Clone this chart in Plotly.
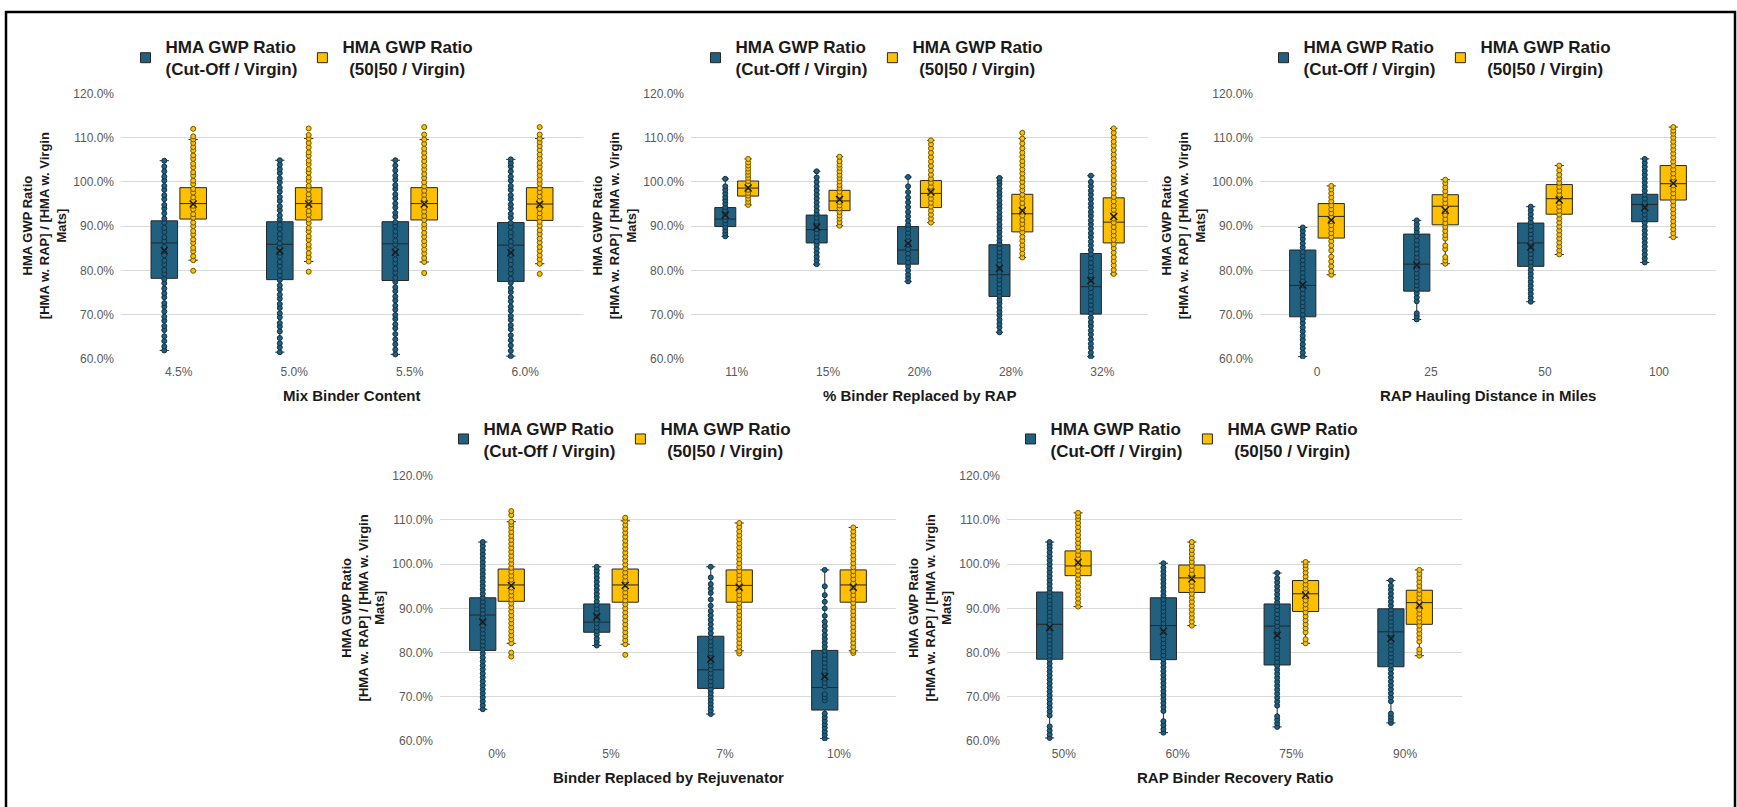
import plotly.graph_objects as go

# ---------------------------------------------------------------------------
# Data: HMA GWP ratio box statistics (percent) per panel and scenario
# ---------------------------------------------------------------------------

# Panel 1 - Mix Binder Content
MIX_CATS = ["4.5%", "5.0%", "5.5%", "6.0%"]
MIX_CUT_Q1 = [78.2, 77.9, 77.7, 77.5]
MIX_CUT_MED = [86.2, 85.9, 86.0, 85.7]
MIX_CUT_Q3 = [91.2, 91.0, 91.0, 90.8]
MIX_CUT_LO = [61.9, 61.5, 61.0, 60.6]
MIX_CUT_HI = [104.8, 104.9, 104.9, 105.1]
MIX_CUT_MEAN = [84.5, 84.4, 84.1, 84.0]
MIX_CUT_PTS = [
    [61.9, 62.8, 64.0, 65.1, 66.5, 67.4, 68.6, 69.5, 70.7, 71.8, 72.6, 73.9, 74.8, 75.9, 77.1, 78.0, 79.2,
     80.1, 81.3, 82.2, 83.4, 84.5, 85.3, 86.6, 87.5, 88.7, 89.6, 90.8, 91.7, 92.9, 94.0, 94.8, 96.1, 97.0,
     98.2, 99.1, 100.3, 101.2, 102.4, 103.5, 104.8],
    [61.5, 62.6, 63.5, 64.7, 66.2, 67.3, 68.1, 69.4, 70.3, 71.5, 72.4, 73.6, 74.5, 75.7, 76.6, 77.8, 78.9,
     79.8, 81.0, 81.9, 83.1, 84.0, 85.2, 86.1, 87.3, 88.2, 89.4, 90.3, 91.5, 92.4, 93.6, 94.5, 95.7, 96.6,
     97.8, 98.7, 99.9, 100.8, 102.0, 102.9, 103.9, 104.9],
    [61.0, 62.1, 63.3, 64.4, 65.6, 66.9, 67.8, 69.0, 69.9, 71.1, 72.0, 73.2, 74.1, 75.3, 76.2, 77.4, 78.3,
     79.5, 80.4, 81.6, 82.5, 83.7, 84.6, 85.8, 86.7, 87.9, 88.8, 90.0, 90.9, 92.1, 93.0, 94.2, 95.1, 96.3,
     97.2, 98.4, 99.3, 100.5, 101.4, 102.6, 103.7, 104.9],
    [60.6, 61.8, 63.0, 64.2, 65.3, 66.7, 67.6, 68.8, 69.7, 70.9, 71.8, 73.0, 73.9, 75.1, 76.0, 77.2, 78.1,
     79.3, 80.2, 81.4, 82.3, 83.5, 84.4, 85.6, 86.5, 87.7, 88.6, 89.8, 90.7, 91.9, 92.8, 94.0, 94.9, 96.1,
     97.0, 98.2, 99.1, 100.3, 101.2, 102.4, 103.5, 104.3, 105.1],
]
MIX_5050_Q1 = [91.6, 91.4, 91.4, 91.3]
MIX_5050_MED = [95.1, 95.1, 95.1, 95.0]
MIX_5050_Q3 = [98.7, 98.7, 98.7, 98.7]
MIX_5050_LO = [82.3, 82.0, 81.9, 81.5]
MIX_5050_HI = [109.6, 109.8, 109.6, 109.8]
MIX_5050_MEAN = [95.0, 95.0, 95.0, 94.9]
MIX_5050_PTS = [
    [79.9, 82.3, 83.2, 84.3, 85.1, 86.2, 87.0, 88.1, 88.9, 90.0, 90.8, 91.9, 92.7, 93.8, 94.6, 95.7, 96.5,
     97.6, 98.4, 99.5, 100.3, 101.4, 102.2, 103.3, 104.1, 105.2, 106.0, 107.1, 107.9, 108.8, 109.6, 110.3,
     112.0],
    [79.7, 82.0, 83.0, 83.9, 85.0, 85.8, 86.9, 87.7, 88.8, 89.6, 90.7, 91.5, 92.6, 93.4, 94.5, 95.3, 96.4,
     97.2, 98.3, 99.1, 100.2, 101.0, 102.1, 102.9, 104.0, 104.8, 105.9, 106.7, 107.8, 108.8, 109.8, 110.6,
     112.1],
    [79.4, 81.9, 82.8, 83.8, 84.7, 85.7, 86.6, 87.6, 88.5, 89.5, 90.4, 91.4, 92.3, 93.3, 94.2, 95.2, 96.1,
     97.1, 98.0, 99.0, 99.9, 100.9, 101.8, 102.8, 103.7, 104.7, 105.6, 106.6, 107.5, 108.6, 109.6, 110.7,
     112.4],
    [79.2, 81.5, 82.5, 83.4, 84.4, 85.3, 86.3, 87.2, 88.2, 89.1, 90.1, 91.0, 92.0, 92.9, 93.9, 94.8, 95.8,
     96.7, 97.7, 98.6, 99.6, 100.5, 101.5, 102.4, 103.4, 104.3, 105.3, 106.2, 107.2, 108.1, 109.0, 109.8,
     110.7, 112.4],
]

# Panel 2 - % Binder Replaced by RAP
RAP_CATS = ["11%", "15%", "20%", "28%", "32%"]
RAP_CUT_Q1 = [89.9, 86.2, 81.4, 74.1, 70.1]
RAP_CUT_MED = [91.6, 89.2, 84.6, 79.0, 76.3]
RAP_CUT_Q3 = [94.2, 92.5, 89.9, 85.8, 83.8]
RAP_CUT_LO = [87.7, 81.4, 77.5, 66.0, 60.5]
RAP_CUT_HI = [100.7, 102.4, 101.1, 100.9, 101.4]
RAP_CUT_MEAN = [92.5, 89.8, 86.1, 80.5, 77.7]
RAP_CUT_PTS = [
    [87.7, 88.4, 89.1, 89.8, 90.6, 91.3, 92.1, 92.8, 93.6, 94.3, 95.1, 95.9, 96.6, 97.4, 98.2, 99.0, 100.7],
    [81.4, 82.3, 83.1, 84.0, 84.9, 85.8, 86.6, 87.5, 88.4, 89.3, 90.1, 91.0, 91.9, 92.8, 93.6, 94.5, 95.4,
     96.3, 97.2, 98.1, 99.0, 100.0, 101.0, 102.4],
    [77.5, 78.3, 79.1, 80.0, 80.9, 81.8, 82.8, 83.8, 84.8, 85.8, 86.7, 87.6, 88.5, 89.4, 90.3, 91.2, 92.2,
     93.2, 94.3, 95.4, 96.5, 97.7, 99.0, 101.1],
    [66.0, 67.1, 67.9, 68.8, 69.8, 70.6, 71.5, 72.5, 73.3, 74.2, 75.2, 76.0, 76.9, 77.9, 78.7, 79.6, 80.6,
     81.4, 82.3, 83.3, 84.1, 85.0, 86.0, 86.8, 87.7, 88.7, 89.5, 90.4, 91.4, 92.2, 93.1, 94.1, 94.9, 95.8,
     96.8, 97.6, 98.5, 99.5, 100.2, 100.9],
    [60.5, 61.4, 62.5, 63.4, 64.4, 65.5, 66.4, 67.4, 68.3, 69.3, 70.3, 71.2, 72.2, 73.1, 74.1, 75.0, 76.0,
     77.0, 77.9, 78.9, 79.8, 80.8, 81.7, 82.7, 83.7, 84.6, 85.6, 86.5, 87.5, 88.4, 89.4, 90.4, 91.3, 92.3,
     93.2, 94.2, 95.1, 96.1, 97.1, 98.0, 99.0, 100.0, 101.4],
]
RAP_5050_Q1 = [96.8, 93.5, 94.2, 88.7, 86.2]
RAP_5050_MED = [98.6, 95.7, 97.4, 92.8, 90.9]
RAP_5050_Q3 = [100.2, 98.1, 100.3, 97.2, 96.4]
RAP_5050_LO = [94.8, 90.1, 90.8, 82.9, 79.2]
RAP_5050_HI = [105.2, 105.7, 109.4, 109.8, 112.1]
RAP_5050_MEAN = [98.6, 96.0, 97.7, 93.5, 92.2]
RAP_5050_PTS = [
    [94.8, 95.5, 96.2, 96.9, 97.5, 98.2, 98.9, 99.5, 100.2, 100.9, 101.6, 102.3, 103.0, 103.7, 104.4, 105.2],
    [90.1, 90.9, 91.7, 92.4, 93.2, 94.0, 94.7, 95.5, 96.3, 97.0, 97.8, 98.6, 99.3, 100.1, 100.9, 101.6,
     102.4, 103.2, 103.9, 104.7, 105.7],
    [90.8, 91.7, 92.6, 93.5, 94.4, 95.3, 96.2, 97.1, 98.0, 98.9, 99.8, 100.7, 101.6, 102.6, 103.6, 104.6,
     105.6, 106.6, 107.6, 108.5, 109.4],
    [82.9, 83.8, 84.8, 85.7, 86.7, 87.6, 88.6, 89.5, 90.5, 91.4, 92.4, 93.3, 94.3, 95.2, 96.2, 97.1, 98.1,
     99.0, 100.0, 100.9, 101.9, 102.8, 103.8, 104.7, 105.7, 106.6, 107.6, 108.7, 109.8, 111.1],
    [79.2, 80.1, 81.1, 82.1, 83.0, 84.0, 85.0, 85.9, 86.9, 87.9, 88.8, 89.8, 90.8, 91.7, 92.7, 93.7, 94.6,
     95.6, 96.6, 97.5, 98.5, 99.5, 100.4, 101.4, 102.4, 103.3, 104.3, 105.3, 106.2, 107.2, 108.2, 109.1,
     110.1, 111.1, 112.1],
]

# Panel 3 - RAP Hauling Distance in Miles
HAUL_CATS = ["0", "25", "50", "100"]
HAUL_CUT_Q1 = [69.5, 75.3, 80.9, 91.0]
HAUL_CUT_MED = [76.6, 81.4, 86.2, 94.9]
HAUL_CUT_Q3 = [84.6, 88.2, 90.7, 97.2]
HAUL_CUT_LO = [60.5, 68.9, 72.9, 81.8]
HAUL_CUT_HI = [89.7, 91.3, 94.4, 105.2]
HAUL_CUT_MEAN = [76.7, 81.2, 85.3, 94.2]
HAUL_CUT_PTS = [
    [60.5, 61.4, 62.4, 63.3, 64.3, 65.2, 66.2, 67.1, 68.1, 69.0, 70.0, 70.9, 71.9, 72.8, 73.8, 74.7, 75.7,
     76.6, 77.6, 78.5, 79.5, 80.4, 81.4, 82.3, 83.3, 84.2, 85.2, 86.1, 87.1, 88.0, 88.9, 89.7],
    [68.9, 69.6, 70.3, 73.0, 73.9, 74.8, 75.7, 76.6, 77.5, 78.4, 79.3, 80.2, 81.1, 82.0, 82.9, 83.8, 84.8,
     85.8, 86.8, 87.8, 88.7, 89.5, 90.4, 91.3],
    [72.9, 73.8, 74.7, 75.6, 76.5, 77.4, 78.3, 79.2, 80.1, 81.0, 81.9, 82.8, 83.7, 84.6, 85.5, 86.4, 87.3,
     88.2, 89.1, 90.0, 90.9, 91.8, 92.7, 93.6, 94.4],
    [81.8, 82.7, 83.6, 84.5, 85.4, 86.3, 87.2, 88.1, 89.0, 89.9, 90.8, 91.7, 92.6, 93.5, 94.4, 95.3, 96.2,
     97.1, 98.0, 98.9, 99.8, 100.7, 101.6, 102.5, 103.4, 104.3, 105.2],
]
HAUL_5050_Q1 = [87.3, 90.3, 92.7, 95.9]
HAUL_5050_MED = [92.2, 94.5, 96.2, 99.6]
HAUL_5050_Q3 = [95.1, 97.1, 99.4, 103.7]
HAUL_5050_LO = [79.0, 81.5, 83.6, 87.5]
HAUL_5050_HI = [99.1, 100.5, 103.7, 112.4]
HAUL_5050_MEAN = [91.4, 93.6, 95.9, 99.7]
HAUL_5050_PTS = [
    [79.0, 79.8, 80.9, 82.0, 83.1, 84.5, 85.6, 86.6, 87.5, 88.4, 89.3, 90.2, 91.1, 92.0, 92.9, 93.8, 94.7,
     95.6, 96.5, 97.4, 98.3, 99.1],
    [81.5, 82.2, 83.0, 84.8, 85.6, 87.2, 88.0, 88.9, 89.8, 90.7, 91.6, 92.5, 93.4, 94.3, 95.2, 96.1, 97.0,
     97.9, 98.8, 99.7, 100.5],
    [83.6, 84.5, 85.4, 86.3, 87.2, 88.1, 89.0, 89.9, 90.8, 91.7, 92.6, 93.5, 94.4, 95.3, 96.2, 97.1, 98.0,
     98.9, 99.8, 100.7, 101.6, 102.6, 103.7],
    [87.5, 88.4, 89.3, 90.2, 91.1, 92.0, 92.9, 93.8, 94.7, 95.6, 96.5, 97.4, 98.3, 99.2, 100.1, 101.0, 101.9,
     102.8, 103.7, 104.6, 105.5, 106.4, 107.3, 108.2, 109.1, 110.0, 110.9, 111.6, 112.4],
]

# Panel 4 - Binder Replaced by Rejuvenator
REJ_CATS = ["0%", "5%", "7%", "10%"]
REJ_CUT_Q1 = [80.5, 84.6, 71.9, 67.0]
REJ_CUT_MED = [88.5, 86.9, 76.1, 72.1]
REJ_CUT_Q3 = [92.4, 91.0, 83.7, 80.5]
REJ_CUT_LO = [67.2, 81.6, 66.1, 60.6]
REJ_CUT_HI = [105.0, 99.4, 99.4, 98.7]
REJ_CUT_MEAN = [86.9, 88.1, 78.5, 74.6]
REJ_CUT_PTS = [
    [67.2, 68.1, 69.0, 69.9, 70.8, 71.7, 72.6, 73.5, 74.4, 75.3, 76.2, 77.1, 78.0, 78.9, 79.8, 80.7, 81.6,
     82.5, 83.4, 84.3, 85.2, 86.1, 87.0, 87.9, 88.8, 89.7, 90.6, 91.5, 92.4, 93.3, 94.2, 95.1, 96.0, 96.9,
     97.8, 98.7, 99.6, 100.5, 101.4, 102.3, 103.2, 104.1, 105.0],
    [81.6, 82.4, 83.2, 84.1, 84.9, 85.7, 86.6, 87.4, 88.3, 89.1, 89.9, 90.8, 91.6, 92.5, 93.3, 94.2, 95.1,
     96.0, 96.9, 97.8, 98.6, 99.4],
    [66.1, 66.9, 67.7, 68.5, 69.3, 70.1, 70.9, 71.7, 72.6, 73.5, 74.4, 75.3, 76.2, 77.1, 78.0, 78.9, 79.8,
     80.7, 81.6, 82.5, 83.4, 84.4, 85.4, 86.4, 87.4, 88.4, 89.4, 90.6, 92.0, 93.5, 94.5, 95.5, 97.0, 99.4],
    [60.6, 61.4, 62.2, 63.0, 63.8, 64.6, 65.4, 66.2, 69.2, 69.9, 70.6, 72.3, 73.2, 74.1, 75.0, 75.9, 76.8,
     77.7, 78.6, 79.5, 80.4, 81.3, 82.2, 83.1, 84.0, 85.0, 86.0, 87.0, 88.3, 90.0, 91.5, 93.0, 95.0, 98.7],
]
REJ_5050_Q1 = [91.6, 91.4, 91.4, 91.4]
REJ_5050_MED = [95.3, 95.3, 95.2, 95.3]
REJ_5050_Q3 = [98.9, 98.9, 98.7, 98.7]
REJ_5050_LO = [82.1, 81.9, 80.4, 80.4]
REJ_5050_HI = [109.6, 109.8, 109.3, 108.3]
REJ_5050_MEAN = [95.2, 95.2, 94.8, 94.8]
REJ_5050_PTS = [
    [79.1, 80.0, 82.1, 83.0, 83.9, 84.8, 85.7, 86.6, 87.5, 88.4, 89.3, 90.2, 91.1, 92.0, 92.9, 93.8, 94.7,
     95.6, 96.5, 97.4, 98.3, 99.2, 100.1, 101.0, 101.9, 102.8, 103.7, 104.6, 105.5, 106.4, 107.3, 108.2,
     109.0, 109.6, 111.1, 112.0],
    [79.5, 81.9, 82.8, 83.7, 84.6, 85.5, 86.4, 87.3, 88.2, 89.1, 90.0, 90.9, 91.8, 92.7, 93.6, 94.5, 95.4,
     96.3, 97.2, 98.1, 99.0, 99.9, 100.8, 101.7, 102.6, 103.5, 104.4, 105.3, 106.2, 107.1, 108.0, 108.9,
     109.8, 110.5],
    [79.8, 80.4, 81.3, 82.2, 83.1, 84.0, 84.9, 85.8, 86.7, 87.6, 88.5, 89.4, 90.3, 91.2, 92.1, 93.0, 93.9,
     94.8, 95.7, 96.6, 97.5, 98.4, 99.3, 100.2, 101.1, 102.0, 102.9, 103.8, 104.7, 105.6, 106.5, 107.4,
     108.4, 109.3],
    [79.9, 80.4, 81.3, 82.2, 83.1, 84.0, 84.9, 85.8, 86.7, 87.6, 88.5, 89.4, 90.3, 91.2, 92.1, 93.0, 93.9,
     94.8, 95.7, 96.6, 97.5, 98.4, 99.3, 100.2, 101.1, 102.0, 102.9, 103.8, 104.7, 105.6, 106.5, 107.4,
     108.3],
]

# Panel 5 - RAP Binder Recovery Ratio
REC_CATS = ["50%", "60%", "75%", "90%"]
REC_CUT_Q1 = [78.5, 78.4, 77.2, 76.8]
REC_CUT_MED = [86.4, 86.1, 86.0, 84.7]
REC_CUT_Q3 = [93.7, 92.4, 91.0, 89.9]
REC_CUT_LO = [60.7, 61.9, 63.2, 64.1]
REC_CUT_HI = [105.0, 100.2, 98.0, 96.3]
REC_CUT_MEAN = [85.7, 84.8, 83.9, 83.2]
REC_CUT_PTS = [
    [60.7, 61.5, 62.4, 63.3, 65.8, 66.7, 67.6, 68.5, 69.4, 70.3, 71.2, 72.1, 73.0, 73.9, 74.8, 75.7, 76.6,
     77.5, 78.4, 79.3, 80.2, 81.1, 82.0, 82.9, 83.8, 84.7, 85.6, 86.5, 87.4, 88.3, 89.2, 90.1, 91.0, 91.9,
     92.8, 93.7, 94.6, 95.5, 96.4, 97.3, 98.2, 99.1, 100.0, 100.9, 101.8, 102.7, 103.6, 104.3, 105.0],
    [61.9, 62.7, 63.6, 64.5, 66.8, 67.7, 68.6, 69.5, 70.4, 71.3, 72.2, 73.1, 74.0, 74.9, 75.8, 76.7, 77.6,
     78.5, 79.4, 80.3, 81.2, 82.1, 83.0, 83.9, 84.8, 85.7, 86.6, 87.5, 88.4, 89.3, 90.2, 91.1, 92.0, 92.9,
     93.8, 94.7, 95.6, 96.5, 97.4, 98.3, 99.2, 100.2],
    [63.2, 64.0, 64.8, 65.6, 68.0, 68.9, 69.8, 70.7, 71.6, 72.5, 73.4, 74.3, 75.2, 76.1, 77.0, 77.9, 78.8,
     79.7, 80.6, 81.5, 82.4, 83.3, 84.2, 85.1, 86.0, 86.9, 87.8, 88.7, 89.6, 90.5, 91.4, 92.3, 93.2, 94.1,
     95.0, 95.9, 96.8, 98.0],
    [64.1, 64.8, 65.5, 66.2, 69.0, 69.9, 70.8, 71.7, 72.6, 73.5, 74.4, 75.3, 76.2, 77.1, 78.0, 78.9, 79.8,
     80.7, 81.6, 82.5, 83.4, 84.3, 85.2, 86.1, 87.0, 87.9, 88.8, 89.7, 90.6, 91.5, 92.4, 93.3, 94.2, 95.1,
     96.3],
]
REC_5050_Q1 = [97.4, 93.6, 89.3, 86.4]
REC_5050_MED = [99.6, 96.9, 93.3, 91.3]
REC_5050_Q3 = [103.0, 99.8, 96.3, 94.1]
REC_5050_LO = [90.4, 86.1, 82.1, 79.3]
REC_5050_HI = [111.6, 105.0, 100.5, 98.7]
REC_5050_MEAN = [100.4, 96.7, 93.0, 90.7]
REC_5050_PTS = [
    [90.4, 91.3, 92.2, 93.1, 94.0, 94.9, 95.8, 96.7, 97.6, 98.5, 99.4, 100.3, 101.2, 102.1, 103.0, 103.9,
     104.8, 105.7, 106.6, 107.5, 108.4, 109.3, 110.2, 110.9, 111.6],
    [86.1, 87.0, 87.9, 88.8, 89.7, 90.6, 91.5, 92.4, 93.3, 94.2, 95.1, 96.0, 96.9, 97.8, 98.7, 99.6, 100.5,
     101.4, 102.3, 103.2, 104.1, 105.0],
    [82.1, 83.0, 84.6, 85.5, 86.4, 87.3, 88.2, 89.1, 90.0, 90.9, 91.8, 92.7, 93.6, 94.5, 95.4, 96.3, 97.2,
     98.1, 99.0, 99.8, 100.5],
    [79.3, 80.0, 80.7, 82.5, 83.4, 84.3, 85.2, 86.1, 87.0, 87.9, 88.8, 89.7, 90.6, 91.5, 92.4, 93.3, 94.2,
     95.1, 96.0, 96.9, 97.8, 98.7],
]

# second legend line of the 50|50 entry is nudged with thin spaces so it sits centred
SERIES_NAMES = ["HMA GWP Ratio<br>(Cut-Off / Virgin)", "HMA GWP Ratio<br>\u2009\u2009(50|50 / Virgin)"]
Y_TITLE = "HMA GWP Ratio<br>[HMA w. RAP] / [HMA w. Virgin<br>Mats]"

# ---------------------------------------------------------------------------
# Layout and styling
# ---------------------------------------------------------------------------
W, H = 1737, 807
FONT = "Arial, 'Liberation Sans', sans-serif"
CUT_FILL = "#22607F"
CUT_EDGE = "#0f3346"
GOLD_FILL = "#FFC000"
GOLD_EDGE = "#6e5700"
BOX_LINE = "#262626"
GRID = "#d9d9d9"
TICK_COLOR = "#595959"
TEXT = "#1a1a1a"
BOX_W = 0.23
OFFSET = 0.125


def px_x(v):
    return v / W


def px_y(v):
    return 1 - v / H


# Each panel: data arrays + plot-area rectangle in pixels (left, top, right, bottom)
panels = [
    dict(cats=MIX_CATS, title="Mix Binder Content", rect=(121, 88, 583, 358), legend_x=302,
         cut=(MIX_CUT_Q1, MIX_CUT_MED, MIX_CUT_Q3, MIX_CUT_LO, MIX_CUT_HI, MIX_CUT_MEAN, MIX_CUT_PTS),
         gold=(MIX_5050_Q1, MIX_5050_MED, MIX_5050_Q3, MIX_5050_LO, MIX_5050_HI, MIX_5050_MEAN, MIX_5050_PTS)),
    dict(cats=RAP_CATS, title="% Binder Replaced by RAP", rect=(691, 88, 1148, 358), legend_x=872,
         cut=(RAP_CUT_Q1, RAP_CUT_MED, RAP_CUT_Q3, RAP_CUT_LO, RAP_CUT_HI, RAP_CUT_MEAN, RAP_CUT_PTS),
         gold=(RAP_5050_Q1, RAP_5050_MED, RAP_5050_Q3, RAP_5050_LO, RAP_5050_HI, RAP_5050_MEAN, RAP_5050_PTS)),
    dict(cats=HAUL_CATS, title="RAP Hauling Distance in Miles", rect=(1260, 88, 1716, 358), legend_x=1440,
         cut=(HAUL_CUT_Q1, HAUL_CUT_MED, HAUL_CUT_Q3, HAUL_CUT_LO, HAUL_CUT_HI, HAUL_CUT_MEAN, HAUL_CUT_PTS),
         gold=(HAUL_5050_Q1, HAUL_5050_MED, HAUL_5050_Q3, HAUL_5050_LO, HAUL_5050_HI, HAUL_5050_MEAN,
               HAUL_5050_PTS)),
    dict(cats=REJ_CATS, title="Binder Replaced by Rejuvenator", rect=(440, 477, 896, 747), legend_x=620,
         cut=(REJ_CUT_Q1, REJ_CUT_MED, REJ_CUT_Q3, REJ_CUT_LO, REJ_CUT_HI, REJ_CUT_MEAN, REJ_CUT_PTS),
         gold=(REJ_5050_Q1, REJ_5050_MED, REJ_5050_Q3, REJ_5050_LO, REJ_5050_HI, REJ_5050_MEAN, REJ_5050_PTS)),
    dict(cats=REC_CATS, title="RAP Binder Recovery Ratio", rect=(1007, 477, 1462, 747), legend_x=1187,
         cut=(REC_CUT_Q1, REC_CUT_MED, REC_CUT_Q3, REC_CUT_LO, REC_CUT_HI, REC_CUT_MEAN, REC_CUT_PTS),
         gold=(REC_5050_Q1, REC_5050_MED, REC_5050_Q3, REC_5050_LO, REC_5050_HI, REC_5050_MEAN, REC_5050_PTS)),
]

fig = go.Figure()
layout = dict(
    width=W, height=H,
    margin=dict(l=0, r=0, t=0, b=0),
    paper_bgcolor="white", plot_bgcolor="white",
    font=dict(family=FONT, color=TEXT),
    boxmode="overlay",
    annotations=[], shapes=[],
)

for k, p in enumerate(panels, start=1):
    suffix = "" if k == 1 else str(k)
    xa, ya = f"x{suffix}", f"y{suffix}"
    legend_id = "legend" if k == 1 else f"legend{k}"
    left, top, right, bottom = p["rect"]
    n = len(p["cats"])

    series = [
        (p["cut"], -OFFSET, CUT_FILL, CUT_EDGE, SERIES_NAMES[0]),
        (p["gold"], OFFSET, GOLD_FILL, GOLD_EDGE, SERIES_NAMES[1]),
    ]
    # boxes first
    for stats, off, fill, edge, name in series:
        q1, med, q3, lo, hi, mean, pts = stats
        pos = [i + off for i in range(n)]
        fig.add_trace(go.Box(
            x=pos, q1=q1, median=med, q3=q3, lowerfence=lo, upperfence=hi,
            width=BOX_W, whiskerwidth=0.35, boxpoints=False,
            fillcolor=fill, line=dict(color=BOX_LINE, width=1),
            name=name, showlegend=False, xaxis=xa, yaxis=ya, hoverinfo="skip",
        ))
    # individual samples, then mean markers on top
    for stats, off, fill, edge, name in series:
        q1, med, q3, lo, hi, mean, pts = stats
        xs, ys = [], []
        for i, col in enumerate(pts):
            xs += [i + off] * len(col)
            ys += col
        fig.add_trace(go.Scatter(
            x=xs, y=ys, mode="markers", showlegend=False, xaxis=xa, yaxis=ya,
            marker=dict(size=5, color=fill, line=dict(color=edge, width=1)),
            hoverinfo="skip",
        ))
    for stats, off, fill, edge, name in series:
        q1, med, q3, lo, hi, mean, pts = stats
        fig.add_trace(go.Scatter(
            x=[i + off for i in range(n)], y=mean, mode="markers", showlegend=False,
            xaxis=xa, yaxis=ya,
            marker=dict(symbol="x-thin", size=7, line=dict(color="#1a1a1a", width=1.4)),
            hoverinfo="skip",
        ))
    # legend swatches for this panel
    for stats, off, fill, edge, name in series:
        fig.add_trace(go.Scatter(
            x=[None], y=[None], mode="markers", name=f"<b>{name}</b>", legend=legend_id,
            marker=dict(symbol="square", size=10, color=fill, line=dict(color=BOX_LINE, width=1)),
            xaxis=xa, yaxis=ya,
        ))

    layout[f"xaxis{suffix}"] = dict(
        domain=[px_x(left), px_x(right)], anchor=ya,
        range=[-0.5, n - 0.5], tickvals=list(range(n)), ticktext=p["cats"],
        showgrid=False, zeroline=False, showline=False, ticks="",
        tickfont=dict(size=12, color=TICK_COLOR), ticklabelstandoff=4,
    )
    layout[f"yaxis{suffix}"] = dict(
        domain=[px_y(bottom), px_y(top)], anchor=xa,
        range=[60, 120], tick0=60, dtick=10, tickformat=".1f", ticksuffix="%",
        showgrid=True, gridcolor=GRID, gridwidth=1, zeroline=False, showline=False, ticks="",
        tickfont=dict(size=12, color=TICK_COLOR), ticklabelstandoff=6,
    )
    legend_y = 52 if top < 200 else 440
    layout[legend_id] = dict(
        orientation="h", x=px_x(p["legend_x"]), y=px_y(legend_y),
        xanchor="center", yanchor="middle", bgcolor="rgba(0,0,0,0)",
        font=dict(size=17, color=TEXT, family=FONT), valign="middle",
    )
    # axis titles
    mid_y = (top + bottom) / 2
    layout["annotations"].append(dict(
        text=f"<b>{Y_TITLE}</b>", textangle=-90, xref="paper", yref="paper",
        x=px_x(left - 77), y=px_y(mid_y), xanchor="center", yanchor="middle",
        showarrow=False, align="center", font=dict(size=13, color=TEXT),
    ))
    layout["annotations"].append(dict(
        text=f"<b>{p['title']}</b>", xref="paper", yref="paper",
        x=px_x((left + right) / 2), y=px_y(bottom + 37), xanchor="center", yanchor="middle",
        showarrow=False, font=dict(size=15, color=TEXT),
    ))

# outer frame
layout["shapes"].append(dict(
    type="rect", xref="paper", yref="paper",
    x0=px_x(6), x1=px_x(1735), y0=-0.02, y1=px_y(5),
    line=dict(color="black", width=2.5), fillcolor="rgba(0,0,0,0)", layer="above",
))

fig.update_layout(**layout)
fig.write_html("out.html")
